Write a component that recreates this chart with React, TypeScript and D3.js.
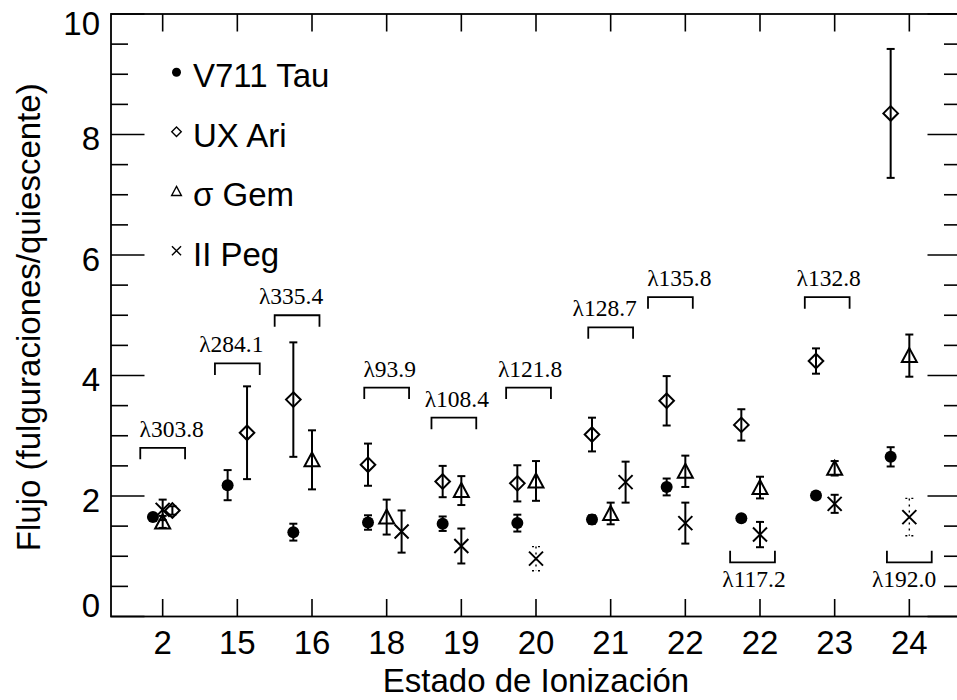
import React from "react";
import * as d3 from "d3";

// ---------- data ----------
const categories = ["2", "15", "16", "18", "19", "20", "21", "22", "22", "23", "24"];

const v711Values = [1.65, 2.18, 1.4, 1.56, 1.54, 1.55, 1.61, 2.15, 1.63, 2.01, 2.65];
const v711Errors = [0.05, 0.25, 0.14, 0.12, 0.12, 0.14, 0.07, 0.14, 0.05, 0.05, 0.16];
const v711Shift = [-0.13, -0.13, -0.25, -0.25, -0.25, -0.25, -0.25, -0.25, -0.25, -0.25, -0.25];

const uxAriValues = [1.76, 3.05, 3.6, 2.52, 2.24, 2.21, 3.02, 3.58, 3.18, 4.24, 8.35];
const uxAriErrors = [0.07, 0.77, 0.95, 0.35, 0.26, 0.3, 0.28, 0.41, 0.26, 0.21, 1.07];
const uxAriShift = [0.13, 0.13, -0.25, -0.25, -0.25, -0.25, -0.25, -0.25, -0.25, -0.25, -0.25];

const sigGemValues = [1.57, null, 2.6, 1.65, 2.09, 2.25, 1.71, 2.41, 2.14, 2.46, 4.33];
const sigGemErrors = [0.1, null, 0.49, 0.29, 0.24, 0.33, 0.18, 0.26, 0.18, 0.12, 0.35];
const sigGemShift = [0, 0, 0, 0, 0, 0, 0, 0, 0, 0, 0];

const iiPegValues = [1.77, null, null, 1.41, 1.17, 0.96, 2.23, 1.55, 1.36, 1.87, 1.65];
const iiPegErrors = [0.17, null, null, 0.35, 0.29, 0.2, 0.34, 0.34, 0.21, 0.15, 0.31];
const iiPegShift = [0, 0, 0, 0.2, 0, 0, 0.2, 0, 0, 0, 0];
const iiPegDotted = [false, false, false, false, false, true, false, false, false, false, true];

const lineLabels = ["λ303.8", "λ284.1", "λ335.4", "λ93.9", "λ108.4", "λ121.8", "λ128.7", "λ135.8", "λ117.2", "λ132.8", "λ192.0"];
const lineBracketX = [0, 1, 1.8, 3, 3.9, 4.9, 6, 6.8, 7.9, 8.9, 10];
const lineBracketY = [2.8, 4.2, 5.0, 3.8, 3.3, 3.8, 4.8, 5.3, 0.9, 5.3, 0.9];
const lineBelow = [false, false, false, false, false, false, false, false, true, false, true];
const lineLabelShift = [0.12, -0.08, -0.08, 0.04, 0.04, 0.02, -0.08, 0.12, 0.02, 0.02, -0.07];

const yMajorTicks = [0, 2, 4, 6, 8, 10];
const yMinorStep = 0.5;

type Shape = "circle" | "diamond" | "triangle" | "cross";

const series = [
  { name: "V711 Tau", shape: "circle" as Shape, values: v711Values, errors: v711Errors, shift: v711Shift, dotted: null as boolean[] | null },
  { name: "UX Ari", shape: "diamond" as Shape, values: uxAriValues, errors: uxAriErrors, shift: uxAriShift, dotted: null },
  { name: "σ Gem", shape: "triangle" as Shape, values: sigGemValues, errors: sigGemErrors, shift: sigGemShift, dotted: null },
  { name: "II Peg", shape: "cross" as Shape, values: iiPegValues, errors: iiPegErrors, shift: iiPegShift, dotted: iiPegDotted },
];

// ---------- layout ----------
const W = 957;
const H = 700;
const M = { left: 111, right: 961, top: 14, bottom: 616.5 };
const SANS = "'Liberation Sans', Arial, Helvetica, sans-serif";
const SERIF = "'Liberation Serif', 'Times New Roman', serif";

function Marker({ shape, cx, cy, s, sw }: { shape: Shape; cx: number; cy: number; s: number; sw: number }) {
  if (shape === "circle") return <circle cx={cx} cy={cy} r={6 * s} fill="#000" />;
  if (shape === "diamond") {
    const h = 7.3 * s;
    return (
      <path
        d={`M${cx},${cy - h}L${cx + h},${cy}L${cx},${cy + h}L${cx - h},${cy}Z`}
        fill="none"
        stroke="#000"
        strokeWidth={sw}
        strokeLinejoin="miter"
      />
    );
  }
  if (shape === "triangle") {
    const w = 7.5 * s;
    return (
      <path
        d={`M${cx},${cy - 7.5 * s}L${cx + w},${cy + 6.5 * s}L${cx - w},${cy + 6.5 * s}Z`}
        fill="none"
        stroke="#000"
        strokeWidth={sw}
      />
    );
  }
  const h = 7 * s;
  return (
    <path
      d={`M${cx - h},${cy - h}L${cx + h},${cy + h}M${cx - h},${cy + h}L${cx + h},${cy - h}`}
      stroke="#000"
      strokeWidth={sw}
      fill="none"
    />
  );
}

export default function App() {
  const x = d3.scaleLinear().domain([-0.692, 10.692]).range([M.left, M.right]);
  const y = d3.scaleLinear().domain([0, 10]).range([M.bottom, M.top]);

  const minorTicks = d3.range(yMinorStep, 10, yMinorStep).filter((v) => !yMajorTicks.includes(v));
  const majLen = 33.5;
  const minLen = 17;
  const xTickLen = 17.5;

  const legendBase = 87.3;
  const legendStep = 59.5;

  return (
    <svg
      width={W}
      height={H}
      viewBox={`0 0 ${W} ${H}`}
      style={{ position: "absolute", left: 0, top: 0, background: "#fff" }}
    >
      <rect x={0} y={0} width={W} height={H} fill="#fff" />

      {/* y ticks left & right */}
      {yMajorTicks.map((t) => (
        <g key={"maj" + t}>
          <line x1={M.left} x2={M.left + majLen} y1={y(t)} y2={y(t)} stroke="#000" strokeWidth={1.6} />
          <line x1={M.right} x2={M.right - majLen} y1={y(t)} y2={y(t)} stroke="#000" strokeWidth={1.6} />
        </g>
      ))}
      {minorTicks.map((t) => (
        <g key={"min" + t}>
          <line x1={M.left} x2={M.left + minLen} y1={y(t)} y2={y(t)} stroke="#000" strokeWidth={1.6} />
          <line x1={M.right} x2={M.right - minLen} y1={y(t)} y2={y(t)} stroke="#000" strokeWidth={1.6} />
        </g>
      ))}
      {/* x ticks bottom & top */}
      {categories.map((c, i) => (
        <g key={"xt" + i}>
          <line x1={x(i)} x2={x(i)} y1={M.bottom} y2={M.bottom - xTickLen} stroke="#000" strokeWidth={1.6} />
          <line x1={x(i)} x2={x(i)} y1={M.top} y2={M.top + xTickLen} stroke="#000" strokeWidth={1.6} />
        </g>
      ))}

      {/* frame */}
      <rect
        x={M.left}
        y={M.top}
        width={M.right - M.left}
        height={M.bottom - M.top}
        fill="none"
        stroke="#000"
        strokeWidth={1.8}
      />

      {/* y tick labels */}
      {yMajorTicks.map((t) => {
        const cy = Math.min(Math.max(y(t) + 4, M.top + 9), M.bottom - 11.5);
        return (
          <text
            key={"yl" + t}
            x={100}
            y={cy}
            dy="0.36em"
            textAnchor="end"
            fontFamily={SANS}
            fontSize={33}
            fill="#000"
          >
            {t}
          </text>
        );
      })}

      {/* x tick labels */}
      {categories.map((c, i) => (
        <text key={"xl" + i} x={x(i)} y={653.5} textAnchor="middle" fontFamily={SANS} fontSize={33} fill="#000">
          {c}
        </text>
      ))}

      {/* axis titles */}
      <text x={(M.left + M.right) / 2} y={691.5} textAnchor="middle" fontFamily={SANS} fontSize={33} fill="#000">
        Estado de Ionización
      </text>
      <text
        transform={`translate(40,${(M.top + M.bottom) / 2 + 2}) rotate(-90)`}
        textAnchor="middle"
        fontFamily={SANS}
        fontSize={33}
        fill="#000"
      >
        Flujo (fulguraciones/quiescente)
      </text>

      {/* brackets and wavelength labels */}
      {lineLabels.map((lab, i) => {
        const cx = x(lineBracketX[i]);
        const half = x(lineBracketX[i] + 0.3) - cx;
        const by = y(lineBracketY[i]);
        const below = lineBelow[i];
        const tick = below ? -11.5 : 11.5;
        const lx = x(lineBracketX[i] + lineLabelShift[i]);
        const ly = below ? by + 24.4 : by - 11;
        return (
          <g key={"br" + i}>
            <path
              d={`M${cx - half},${by + tick}L${cx - half},${by}L${cx + half},${by}L${cx + half},${by + tick}`}
              fill="none"
              stroke="#000"
              strokeWidth={1.8}
            />
            <text x={lx} y={ly} textAnchor="middle" fontFamily={SERIF} fontSize={23.5} fill="#000">
              {lab}
            </text>
          </g>
        );
      })}

      {/* error bars */}
      {series.map((s) =>
        s.values.map((v, i) => {
          if (v == null) return null;
          const e = s.errors[i] as number;
          const cx = x(i + s.shift[i]);
          const dotted = s.dotted ? s.dotted[i] : false;
          const y1 = y(v + e);
          const y2 = y(v - e);
          return (
            <g key={s.name + "e" + i} stroke="#000" strokeWidth={dotted ? 1.4 : 2} strokeDasharray={dotted ? "2,4" : undefined}>
              <line x1={cx} x2={cx} y1={y1} y2={y2} />
              <line x1={cx - 4} x2={cx + 4} y1={y1} y2={y1} />
              <line x1={cx - 4} x2={cx + 4} y1={y2} y2={y2} />
            </g>
          );
        })
      )}

      {/* markers */}
      {series.map((s) =>
        s.values.map((v, i) =>
          v == null ? null : (
            <Marker key={s.name + "m" + i} shape={s.shape} cx={x(i + s.shift[i])} cy={y(v)} s={1} sw={2} />
          )
        )
      )}

      {/* legend */}
      {series.map((s, k) => {
        const base = legendBase + k * legendStep;
        return (
          <g key={"lg" + k}>
            <Marker shape={s.shape} cx={176.5} cy={base - 15} s={s.shape === "circle" ? 0.75 : 0.65} sw={1.4} />
            <text x={193} y={base} fontFamily={SANS} fontSize={33} fill="#000">
              {s.name}
            </text>
          </g>
        );
      })}
    </svg>
  );
}
